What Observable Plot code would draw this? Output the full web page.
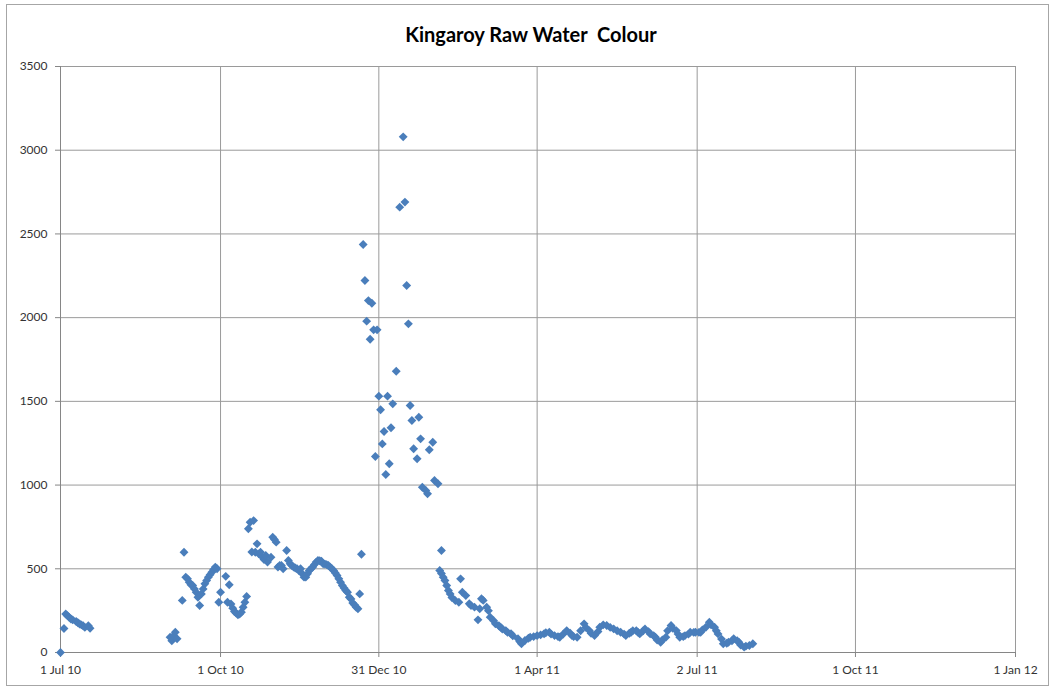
<!DOCTYPE html>
<html><head><meta charset="utf-8">
<script src="https://cdn.jsdelivr.net/npm/d3@7"></script>
<script src="https://cdn.jsdelivr.net/npm/@observablehq/plot@0.6"></script>
<style>
body{margin:0;background:#fff;}
#wrap{position:relative;width:1053px;height:689px;overflow:hidden;background:#fff;}
#frame{position:absolute;left:6px;top:4px;width:1041px;height:680px;border:1px solid #a6a6a6;pointer-events:none;}
#title{height:52px;box-sizing:border-box;padding-top:22px;padding-left:9px;text-align:center;font:bold 20px Lato, sans-serif;line-height:24px;white-space:pre;color:#000;}
#chart svg{display:block;}
</style></head>
<body><div id="wrap"><div id="title">Kingaroy Raw Water  Colour</div><div id="chart"></div><div id="frame"></div></div>
<script>
// Day offsets from 1 Jul 2010 and the raw water colour reading for each
const startDate = "2010-07-01";
const endDate = "2012-01-01";
const dayOffsets = [
  0,2,3,4,5,6,7,9,10,11,12,13,14,16,17,
  63,64,65,66,67,70,71,72,73,74,75,76,77,78,79,80,81,82,83,84,85,86,87,88,89,90,91,92,95,96,97,98,99,100,101,102,103,104,105,106,107,
  108,109,110,111,112,113,114,115,116,117,118,119,121,122,123,124,125,126,127,128,130,131,132,133,134,135,136,137,138,139,140,141,142,143,144,145,146,147,148,149,150,151,152,153,154,155,156,157,158,159,160,161,162,163,164,165,166,167,168,169,170,171,172,173,
  174,175,176,177,178,179,180,181,182,183,184,185,186,187,188,189,190,191,193,195,197,198,199,200,201,202,203,205,206,207,208,210,211,212,214,215,217,
  218,219,219,220,221,222,223,224,225,227,229,230,231,233,235,236,238,240,241,242,243,245,246,247,249,250,252,253,254,256,257,259,260,263,264,265,267,269,270,272,274,276,278,279,281,282,284,286,287,289,291,293,294,295,297,299,301,302,304,305,307,309,310,312,314,316,318,320,322,324,325,327,328,329,331,332,333,335,336,338,339,341,342,343,345,346,348,349,351,352,354,355,356,358,359,361,362,364,365,367,368,369,371,373,374,376,377,378,380,381,383,384,386,387,389,390,391,393,394,396,398
];
const colourValues = [
  0,143,230,220,210,200,195,185,178,170,165,160,150,160,145,
  91,70,100,121,82,311,599,450,440,420,405,400,380,360,330,281,350,380,410,430,450,465,480,495,510,500,300,360,455,300,405,290,265,245,235,225,230,241,270,300,335,
  739,778,600,788,599,649,589,599,570,555,579,540,569,689,675,659,510,520,520,500,609,550,530,520,510,505,500,490,500,470,450,450,470,490,500,510,525,540,550,548,545,530,528,525,520,510,500,490,475,460,440,420,400,385,370,360,330,320,295,285,270,261,350,587,
  2437,2222,1979,2102,1871,2086,1927,1171,1927,1531,1450,1246,1320,1063,1531,1127,1342,1485,1680,2660,3080,2690,2192,1963,1475,1386,1217,1157,1405,1276,987,968,948,1211,1256,1027,1008,
  490,609,472,450,430,400,370,350,328,310,300,440,360,340,291,280,271,195,261,321,311,271,250,211,190,171,160,151,140,131,120,112,100,82,65,52,72,85,91,95,101,105,112,118,121,110,101,95,91,110,131,115,101,95,91,130,171,150,131,115,101,125,151,165,161,150,141,130,121,110,101,115,121,130,131,120,111,130,141,125,111,100,91,75,61,75,91,130,161,145,131,110,91,95,101,110,121,120,121,120,121,135,151,181,165,151,130,111,80,52,55,61,70,82,70,61,45,32,38,42,52
];
const tickDates = ["2010-07-01","2010-10-01","2010-12-31","2011-04-01","2011-07-02","2011-10-01","2012-01-01"];
const tickLabels = ["1 Jul 10","1 Oct 10","31 Dec 10","1 Apr 11","2 Jul 11","1 Oct 11","1 Jan 12"];
const yTicks = [0,500,1000,1500,2000,2500,3000,3500];

const d0 = new Date(startDate + "T00:00:00Z");
const d1 = new Date(endDate + "T00:00:00Z");
const data = dayOffsets.map((d, i) => ({date: d3.utcDay.offset(d0, d), value: colourValues[i]}));
const xTicks = tickDates.map(s => new Date(s + "T00:00:00Z"));
const labelOf = new Map(xTicks.map((d, i) => [+d, tickLabels[i]]));

const chart = Plot.plot({
  width: 1053,
  height: 637,
  marginLeft: 60,
  marginRight: 38,
  marginTop: 14,
  marginBottom: 37,
  style: {fontFamily: "Lato, sans-serif", fontSize: "12px", color: "#333", background: "transparent"},
  x: {type: "utc", domain: [d0, d1]},
  y: {domain: [0, 3500]},
  marks: [
    Plot.gridY(yTicks, {stroke: "#9a9a9a", strokeOpacity: 1}),
    Plot.gridX(xTicks, {stroke: "#9a9a9a", strokeOpacity: 1}),
    Plot.ruleX([d0], {stroke: "#868686"}),
    Plot.ruleY([0], {stroke: "#868686"}),
    Plot.axisY(yTicks, {tickSize: 5, tickPadding: 8, stroke: "#868686", label: null, tickFormat: d => String(d)}),
    Plot.axisX(xTicks, {tickSize: 5, tickPadding: 8, stroke: "#868686", label: null, tickFormat: d => labelOf.get(+d)}),
    Plot.dot(data, {x: "date", y: "value", symbol: "diamond2", r: 4, fill: "#4A7EBB", stroke: null})
  ]
});
document.getElementById("chart").appendChild(chart);
</script>
</body></html>
